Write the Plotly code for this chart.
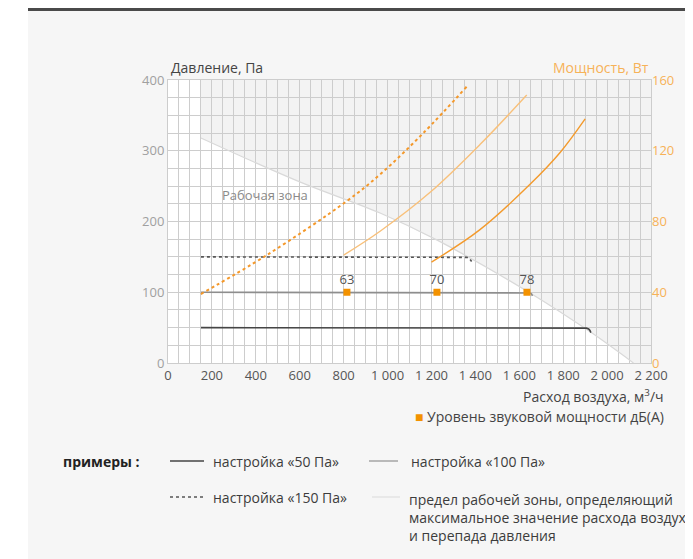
import plotly.graph_objects as go

# --- data ---
x_ticks = [0, 200, 400, 600, 800, 1000, 1200, 1400, 1600, 1800, 2000, 2200]
x_ticklabels = ["0", "200", "400", "600", "800", "1 000", "1 200", "1 400", "1 600", "1 800", "2 000", "2 200"]
p_ticks = [0, 100, 200, 300, 400]
w_ticks = [0, 40, 80, 120, 160]

# working zone limit (Pa)
zone_x = [150, 600, 966, 1224, 1649, 1923, 2120]
zone_p = [318, 256, 212, 174, 99, 44, 0]

# pressure settings (Pa)
p50_x = [150, 1885, 1905, 1916, 1922, 1926]
p50_y = [50, 50, 49.3, 48, 46, 43]
p100_x = [150, 1640, 1650, 1656, 1660]
p100_y = [100, 100, 99, 97.5, 95]
p150_x = [150, 1345, 1362, 1372, 1378, 1383]
p150_y = [150, 150, 149.3, 148, 146, 143.5]

# power curves (W)
w150_x = [150, 450, 814, 966, 1163, 1364]
w150_y = [39, 61, 91.5, 106.6, 130, 156.7]
w100_x = [800, 966, 1194, 1421, 1634]
w100_y = [61, 74.5, 96.5, 123.5, 151.5]
w50_x = [1200, 1421, 1649, 1786, 1900]
w50_y = [57, 75.4, 101, 119, 138]

# sound power level points
snd_x = [815, 1225, 1635]
snd_p = [100, 100, 100]
snd_lbl = ["63", "70", "78"]

FONT = "Open Sans, Noto Sans, sans-serif"
ORANGE = "#f39200"
GRID = "#cdcdcd"
DARK = "#3c3c3c"

W, H = 693, 559
OFF = 8  # page body margin
L, R, T, B = 168, 651, 80, 363  # plot area in window pixels

def px(x):
    return (x - L) / (R - L)

def py(y):
    return (B - y) / (B - T)

fig = go.Figure()

fig.add_trace(go.Scatter(x=zone_x, y=zone_p, mode="lines", line_shape="spline",
                         line=dict(color="#d9d9d9", width=1.2), hoverinfo="skip"))
fig.add_trace(go.Scatter(x=p50_x, y=p50_y, mode="lines",
                         line=dict(color="#454545", width=1.6)))
fig.add_trace(go.Scatter(x=p100_x, y=p100_y, mode="lines",
                         line=dict(color="#8e8e8e", width=1.6)))
fig.add_trace(go.Scatter(x=p150_x, y=p150_y, mode="lines",
                         line=dict(color="#555555", width=1.6, dash="dot")))

fig.add_trace(go.Scatter(x=w150_x, y=w150_y, yaxis="y2", mode="lines", line_shape="spline",
                         line=dict(color="#f4982a", width=2, dash="dot")))
fig.add_trace(go.Scatter(x=w100_x, y=w100_y, yaxis="y2", mode="lines", line_shape="spline",
                         line=dict(color="#f8c07a", width=1.4)))
fig.add_trace(go.Scatter(x=w50_x, y=w50_y, yaxis="y2", mode="lines", line_shape="spline",
                         line=dict(color="#f39a2c", width=1.4)))

fig.add_trace(go.Scatter(x=snd_x, y=snd_p, mode="markers+text", text=snd_lbl,
                         textposition="top center",
                         textfont=dict(family=FONT, size=13, color="#555555"),
                         marker=dict(symbol="square", size=7, color=ORANGE)))

# grey area outside the working zone
path = "M " + " L ".join(f"{a},{b}" for a, b in zip(zone_x, zone_p))
path += f" L 2200,0 L 2200,400 L {zone_x[0]},400 Z"

shapes = [
    dict(type="path", xref="x", yref="y", path=path, fillcolor="#f3f3f3",
         line=dict(width=0), layer="below"),
    dict(type="rect", xref="paper", yref="paper", x0=px(0), x1=px(28), y0=py(H + 20), y1=py(0),
         fillcolor="white", line=dict(width=0), layer="below"),
    dict(type="line", xref="paper", yref="paper", x0=px(28), x1=px(W + 10), y0=py(9.5), y1=py(9.5),
         line=dict(color="#4a4a4a", width=3)),
    # legend keys
    dict(type="line", xref="paper", yref="paper", x0=px(170), x1=px(204), y0=py(461), y1=py(461),
         line=dict(color="#454545", width=1.6)),
    dict(type="line", xref="paper", yref="paper", x0=px(369), x1=px(398), y0=py(461), y1=py(461),
         line=dict(color="#a0a0a0", width=1.4)),
    dict(type="line", xref="paper", yref="paper", x0=px(170), x1=px(204), y0=py(497), y1=py(497),
         line=dict(color="#555555", width=1.4, dash="dot")),
    dict(type="line", xref="paper", yref="paper", x0=px(372), x1=px(400), y0=py(497), y1=py(497),
         line=dict(color="#e2e2e2", width=1.4)),
]

def note(text, x, y, anchor="left", color=DARK, size=14, **kw):
    return dict(text=text, x=px(x), y=py(y), xref="paper", yref="paper",
                xanchor=anchor, yanchor="middle", showarrow=False,
                font=dict(family=FONT, size=size, color=color), **kw)

annotations = [
    note("Давление, Па", 169, 68, color="#444444"),
    note("Мощность, Вт", 651, 68, anchor="right", color="#f6b258"),
    note("Расход воздуха, м<sup>3</sup>/ч", 666, 396, anchor="right", color="#444444"),
    note(f'<span style="color:{ORANGE}">■</span> Уровень звуковой мощности дБ(А)', 666, 416,
         anchor="right", color="#444444"),
    note("Рабочая зона", 220, 195, size=13, color="#8a8a8a"),
    note("<b>примеры :</b>", 61, 461, color="#222222"),
    note("настройка «50 Па»", 211, 461),
    note("настройка «100 Па»", 409, 461),
    note("настройка «150 Па»", 211, 497),
    dict(text="предел рабочей зоны, определяющий<br>максимальное значение расхода воздуха<br>и перепада давления",
         x=px(407), y=py(488), xref="paper", yref="paper", xanchor="left", yanchor="top",
         align="left", showarrow=False, font=dict(family=FONT, size=14, color=DARK)),
]

fig.update_layout(
    width=W, height=H,
    margin=dict(l=L - OFF, r=W - (R - OFF), t=T - OFF, b=H - (B - OFF), autoexpand=False),
    paper_bgcolor="#f6f6f6", plot_bgcolor="white",
    showlegend=False,
    font=dict(family=FONT, size=13, color="#555555"),
    xaxis=dict(range=[0, 2200], tickmode="array", tickvals=x_ticks, ticktext=x_ticklabels,
               showgrid=True, gridcolor=GRID, gridwidth=1.3, zeroline=False,
               showline=True, linecolor=GRID, mirror=True, ticks="", automargin=False,
               tickfont=dict(color="#555555", size=13),
               minor=dict(tickmode="linear", tick0=0, dtick=50, showgrid=True,
                          gridcolor=GRID, gridwidth=1.3)),
    yaxis=dict(range=[0, 400], tickmode="array", tickvals=p_ticks,
               showgrid=True, gridcolor=GRID, gridwidth=1.3, zeroline=False,
               showline=True, linecolor=GRID, mirror=True, ticks="", automargin=False,
               tickfont=dict(color="#a0a0a0", size=13),
               minor=dict(tickmode="linear", tick0=0, dtick=25, showgrid=True,
                          gridcolor=GRID, gridwidth=1.3)),
    yaxis2=dict(range=[0, 160], overlaying="y", side="right", tickmode="array", tickvals=w_ticks,
                showgrid=False, zeroline=False, ticks="", automargin=False,
                tickfont=dict(color="#f6b258", size=13)),
    shapes=shapes,
    annotations=annotations,
)

fig.write_html("out.html")
